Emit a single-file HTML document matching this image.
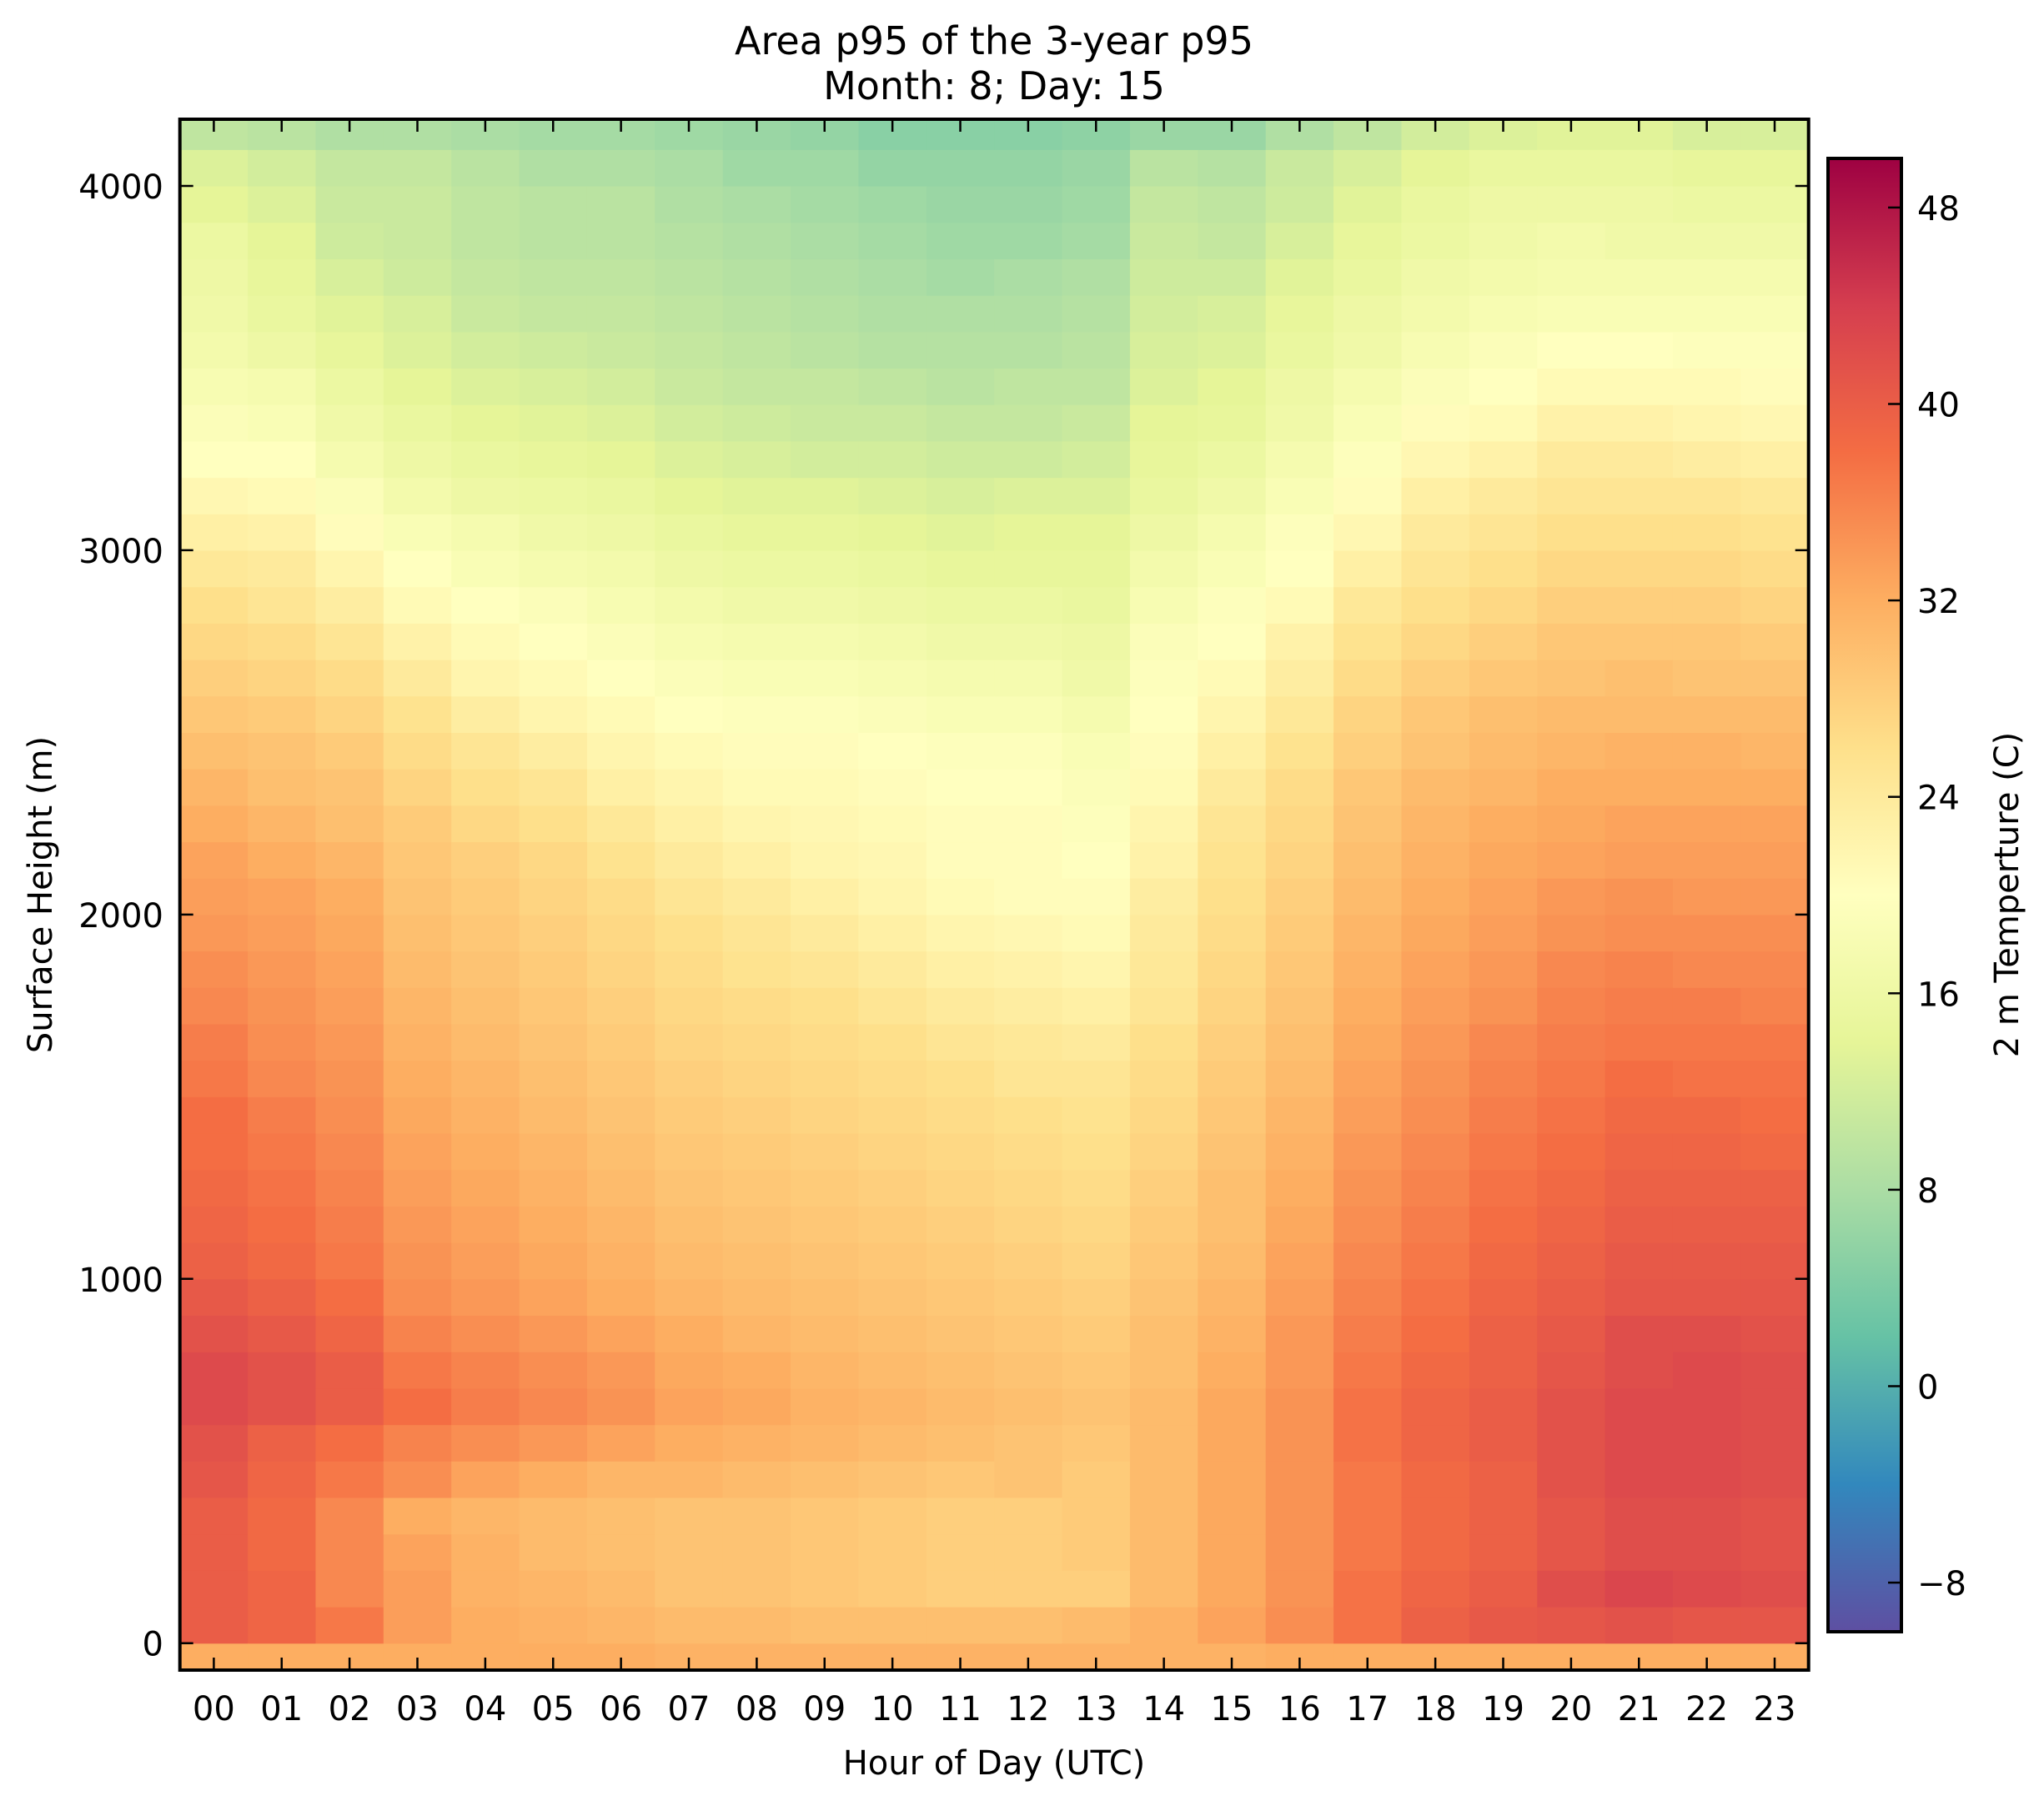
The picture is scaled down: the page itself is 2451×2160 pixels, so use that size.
<!DOCTYPE html>
<html><head><meta charset="utf-8"><style>
html,body{margin:0;padding:0;background:#fff;}
svg text{font-family:"DejaVu Sans","Liberation Sans",sans-serif;fill:#000;}
</style></head><body>
<svg id="chart" width="2451" height="2155" viewBox="0 0 2451 2155" xmlns="http://www.w3.org/2000/svg">
<defs>
<clipPath id="plotclip"><rect x="215.7" y="143" width="1953" height="1860"/></clipPath>
<linearGradient id="cbgrad" x1="0" y1="1" x2="0" y2="0">
<stop offset="0" stop-color="#5e4fa2"/><stop offset="0.1" stop-color="#3288bd"/><stop offset="0.2" stop-color="#66c2a5"/><stop offset="0.3" stop-color="#abdda4"/><stop offset="0.4" stop-color="#e6f598"/><stop offset="0.5" stop-color="#ffffbf"/><stop offset="0.6" stop-color="#fee08b"/><stop offset="0.7" stop-color="#fdae61"/><stop offset="0.8" stop-color="#f46d43"/><stop offset="0.9" stop-color="#d53e4f"/><stop offset="1" stop-color="#9e0142"/>
</linearGradient>
</defs>
<text x="1192" y="65" font-size="46" text-anchor="middle">Area p95 of the 3-year p95</text>
<text x="1192" y="119" font-size="46" text-anchor="middle">Month: 8; Day: 15</text>
<g id="cells" clip-path="url(#plotclip)"></g>
<g id="axes"></g>
<text x="1192" y="2128" font-size="40" text-anchor="middle">Hour of Day (UTC)</text>
<text x="0" y="0" font-size="40" text-anchor="middle" transform="translate(62,1073) rotate(-90)">Surface Height (m)</text>
<rect x="2192" y="190" width="88" height="1767" fill="url(#cbgrad)" stroke="#000" stroke-width="4"/>
<g id="cbticks"></g>
<text x="0" y="0" font-size="40" text-anchor="middle" transform="translate(2420,1073) rotate(-90)">2 m Temperture (C)</text>
</svg>
<script>
const hours = ["00","01","02","03","04","05","06","07","08","09","10","11","12","13","14","15","16","17","18","19","20","21","22","23"];
const heights = [-100,0,100,200,300,400,500,600,700,800,900,1000,1100,1200,1300,1400,1500,1600,1700,1800,1900,2000,2100,2200,2300,2400,2500,2600,2700,2800,2900,3000,3100,3200,3300,3400,3500,3600,3700,3800,3900,4000,4100];
const col00 = [32,40,40,40,40,41,41.5,42.5,42.5,41.5,40.5,39.5,39,38.5,38,38,37,36.5,35.5,35,34,33.5,33,32,31,30,29,28,27,26,24.5,23,21.5,20,19,18,17,16.5,16,15.5,14,13,10];
const col01 = [32,39,39,38.5,38.5,39,39.5,41.5,41.5,40.5,39.5,38.5,38,37.5,37,36.5,35.5,35,34.5,34,33.5,33,32,31,30,29.5,28.5,27.5,26.5,25,24,22.5,21,20,18.5,17.5,16,15,14.5,14,13,12,9.5];
const col02 = [32,37,35.5,35.5,35.5,37,38,40,40,39,38,37,36.5,36,35.5,35,34.5,34,33.5,33,32.5,32,31,30,29.5,28.5,27.5,26.5,25,23.5,22,20.5,19,17.5,16.5,15.5,14.5,13.5,12.5,11.5,11,10.5,8.5];
const col03 = [32,33.5,33.5,33,32,35,36,38,37,36,35,34.5,34,33.5,33,32.5,32,31.5,31,30.5,30,29.5,29,28.5,27.5,26.5,25.5,24,22.5,21,20,18.5,17,16,15,14,13,12.5,11.5,11,11,10.5,8.5];
const col04 = [32,32,31.5,31.5,31,33,35,36.5,36,35,34,33.5,33,32.5,32,31.5,31,30.5,30,29.5,29,28.5,28,27,26,25,23.5,22,21,20,18.5,17.5,16,15,14,13,12,11,10.5,10,10,9.5,8];
const col05 = [32,31.5,31,30.5,30.5,32,34,35.5,35,34,33,32.5,32,31.5,31,30.5,30,29.5,29,28.5,28,27.5,27,26,25,23.5,22,21,20,19,17.5,16.5,15.5,14.5,13.5,12.5,11.5,10.5,10,9.5,9.5,8.5,7.5];
const col06 = [32,31,30.5,30,30,31,33,34.5,34,33,32,31.5,31,30.5,30,29.5,29,28.5,28,27.5,27,26.5,25.5,24.5,23,22,21,20,19,18,17,16,15,14,13,12,11,10.5,10,9.5,9.5,8.5,7.5];
const col07 = [31.5,30.5,29.5,29.5,29.5,31,32,33,32.5,32,31,30.5,30,29.5,29,28.5,28,27.5,27,26.5,26,25,24,23,22,21,20,19,18,17,16,15,14,13,12,11,10.5,10,9.5,9,8.5,8,7];
const col08 = [31.5,30.5,29.5,29.5,29.5,30.5,31.5,32.5,32,31,30.5,30,29.5,29,28.5,28,27.5,27,26.5,25.5,25,24,23,22,21,20.5,19.5,18.5,17.5,16.5,15.5,14.5,13.5,12.5,11.5,10.5,10,9.5,9,8.5,8,7,6.5];
const col09 = [31.5,30,29,29,29,30,31,31.5,31,30.5,30,29.5,29,28.5,28,27.5,27,26.5,26,25,24,23,22,21.5,21,20.5,19.5,18.5,17.5,16.5,15.5,14.5,13.5,12,11,10.5,9.5,9,8.5,8,7.5,7,6];
const col10 = [31.5,30,28.5,28.5,28.5,29.5,30.5,31,30.5,30,29.5,29,28.5,28,27.5,27,26.5,26,25,24,23,22,21.5,21,20.5,20,19,18,17,16,15,14,13,12,11,10,9,8.5,8,7.5,7,6,5];
const col11 = [31.5,30,28,28,28,29,30,30.5,30,29.5,29,28.5,28,27.5,27,26.5,26,25,24,23,22,21,20.5,20.5,20,19.5,18.5,17.5,16.5,15.5,14.5,13.5,12.5,11.5,10.5,9.5,9,8.5,7.5,7,6.5,6,5];
const col12 = [31.5,30,28,28,28,29.5,29.5,30,29.5,29,28.5,28,27.5,27,26.5,26,25,24.5,23.5,22.5,21.5,20.5,20.5,20.5,20,19.5,18.5,17.5,16.5,15.5,14.5,14,13,11.5,10.5,10,9,8.5,8,7,6.5,6,5];
const col13 = [31.5,30.5,28,28.5,28.5,28.5,29,29.5,29,28.5,28,27.5,27,26.5,26,25.5,25,24,23,22,21,20.5,20,19.5,19,18.5,17.5,16.5,16,15,14.5,14,13,12,11,10,9.5,9,8.5,7.5,7,6.5,5.5];
const col14 = [31.5,31.5,30.5,30.5,30.5,30.5,30.5,30.5,30,30,29.5,29,28.5,28,27.5,27,26.5,26,25,24.5,24,23.5,22.5,22,21,20.5,20,19.5,19,18,17,16,15,14.5,14,13,12.5,12,11.5,11,10.5,9.5,6.5];
const col15 = [31.5,33,32.5,32.5,32.5,32.5,32.5,32.5,32,31.5,31,30.5,30,30,29.5,29,28.5,28,27.5,27,26.5,26,25.5,25,24,23,22,21,20,19.5,18.5,17.5,16.5,15.5,14.5,14,13,12.5,11.5,10.5,10,9,6.5];
const col16 = [32,35,34.5,34.5,34.5,34.5,34.5,34.5,34,34,33.5,33,32.5,32,31.5,31,30.5,30,29.5,29,28.5,28,27.5,27,26.5,25.5,24.5,23.5,22.5,21,20,19.5,18.5,17.5,16.5,16,15,14.5,13.5,12.5,11.5,11,8.5];
const col17 = [32,37.5,37.5,37,37,37,37.5,37.5,37,36.5,36,35.5,35,34.5,34,33.5,33,32.5,32,31.5,31,30.5,30,29.5,29,28,27.5,26.5,25.5,24.5,23,21.5,20.5,19.5,18.5,17.5,16.5,16,15,14.5,13.5,12.5,10];
const col18 = [32,39.5,39,38.5,38.5,38.5,39,39,38.5,38,37.5,37,36.5,36,35.5,35,34.5,34,33.5,33,32.5,32,31.5,31,30.5,29.5,29,28,27,26,25,24,23,21.5,20.5,19,18,17,16.5,15.5,15,14,12];
const col19 = [32,40.5,40,39.5,39.5,39.5,40,40,39.5,39.5,39,38.5,38,37.5,37,36.5,36,35.5,34.5,34,33.5,33,32.5,32,31,30.5,30,29,28,27,26,25,24,22.5,21,20,19,18,17,16.5,16,15,13];
const col20 = [32,41,42,41,41,41.5,41.5,41.5,41,40.5,40,39.5,39,38.5,38,37.5,37,36.5,36,35.5,34.5,34,33,32.5,32,31,30.5,29.5,29,28,27,26,25,24,22.5,21,20,18.5,17.5,17,16,15,13.5];
const col21 = [32,41.5,43,42,42,42.5,42.5,42.5,42,42,41,40.5,40,39.5,39,38.5,38,37,36.5,36,35,34.5,33.5,33,32,31.5,30.5,30,29,28,27,26,25,24,22.5,21,20,18.5,17.5,16.5,16,15,13.5];
const col22 = [32,41,42.5,42,42,42.5,42.5,42.5,42.5,42,41,40.5,40,39.5,39,38.5,37.5,37,36.5,35.5,35,34,33.5,33,32,31.5,30.5,29.5,29,28,27,26,25,23.5,22,21,19.5,18.5,17.5,16.5,15.5,14.5,12.5];
const col23 = [32,41,42,41.5,41.5,42,42,42,42,41.5,41,40.5,40,39.5,38.5,38,37.5,37,36,35.5,35,34,33.5,33,32,31,30.5,29.5,28.5,27.5,26.5,25.5,24.5,23,21.5,20.5,19.5,18.5,17.5,16.5,15.5,14.5,12.5];
const columns = [col00,col01,col02,col03,col04,col05,col06,col07,col08,col09,col10,col11,col12,col13,col14,col15,col16,col17,col18,col19,col20,col21,col22,col23];
const yTicks = [0,1000,2000,3000,4000];
const cbTicks = [-8,0,8,16,24,32,40,48];
const vmin = -10, vmax = 50;

const NS = "http://www.w3.org/2000/svg";
const PL = 215.7, PR = 2168.7, PT = 143, PB = 2003;
const colW = (PR - PL) / hours.length;
const y0 = 1970.7, pxPerM = (1970.7 - 223) / 4000;
function xScale(i){ return PL + i * colW; }
function yScale(h){ return y0 - h * pxPerM; }
const stops = ["#5e4fa2","#3288bd","#66c2a5","#abdda4","#e6f598","#ffffbf","#fee08b","#fdae61","#f46d43","#d53e4f","#9e0142"];
function hex(c){ return [parseInt(c.substr(1,2),16),parseInt(c.substr(3,2),16),parseInt(c.substr(5,2),16)]; }
function cmap(v){
  let t = (v - vmin) / (vmax - vmin); t = Math.max(0, Math.min(1, t));
  const p = t * 10, i = Math.min(9, Math.floor(p)), f = p - i;
  const a = hex(stops[i]), b = hex(stops[i+1]);
  return "rgb(" + a.map((x,k)=>Math.round(x + (b[k]-x)*f)).join(",") + ")";
}
function mk(tag, attrs, parent){
  const e = document.createElementNS(NS, tag);
  for (const k in attrs) e.setAttribute(k, attrs[k]);
  parent.appendChild(e); return e;
}
const cells = document.getElementById("cells");
columns.forEach((col, i) => {
  col.forEach((v, j) => {
    const h = heights[j];
    const top = yScale(h + 100), bot = yScale(h);
    const r = mk("rect", {x: xScale(i), y: top, width: colW + 0.6, height: bot - top + 0.6, fill: cmap(v)}, cells);
    
    
  });
});
const axes = document.getElementById("axes");
const frame = mk("rect", {x: PL, y: PT, width: PR - PL, height: PB - PT, fill: "none", stroke: "#000", "stroke-width": 4}, axes);


hours.forEach((lab, i) => {
  const x = xScale(i) + colW / 2;
  mk("line", {x1: x, x2: x, y1: PB, y2: PB - 15, stroke: "#000", "stroke-width": 2.5}, axes);
  mk("line", {x1: x, x2: x, y1: PT, y2: PT + 15, stroke: "#000", "stroke-width": 2.5}, axes);
  const t = mk("text", {x: x, y: 2063, "font-size": 40, "text-anchor": "middle"}, axes);
  t.textContent = lab;
  
  
});
yTicks.forEach(v => {
  const y = yScale(v);
  mk("line", {x1: PL, x2: PL + 16, y1: y, y2: y, stroke: "#000", "stroke-width": 2.5}, axes);
  mk("line", {x1: PR, x2: PR - 16, y1: y, y2: y, stroke: "#000", "stroke-width": 2.5}, axes);
  const t = mk("text", {x: 196, y: y + 15, "font-size": 40, "text-anchor": "end"}, axes);
  t.textContent = String(v);
  
  
});
const cbg = document.getElementById("cbticks");
const CBT = 190, CBB = 1957;
cbTicks.forEach(v => {
  const y = CBB - (v - vmin) / (vmax - vmin) * (CBB - CBT);
  mk("line", {x1: 2280, x2: 2264, y1: y, y2: y, stroke: "#000", "stroke-width": 2.5}, cbg);
  const t = mk("text", {x: 2299, y: y + 15, "font-size": 40}, cbg);
  t.textContent = v < 0 ? "\u2212" + Math.abs(v) : String(v);
  
  
});
</script>
</body></html>
